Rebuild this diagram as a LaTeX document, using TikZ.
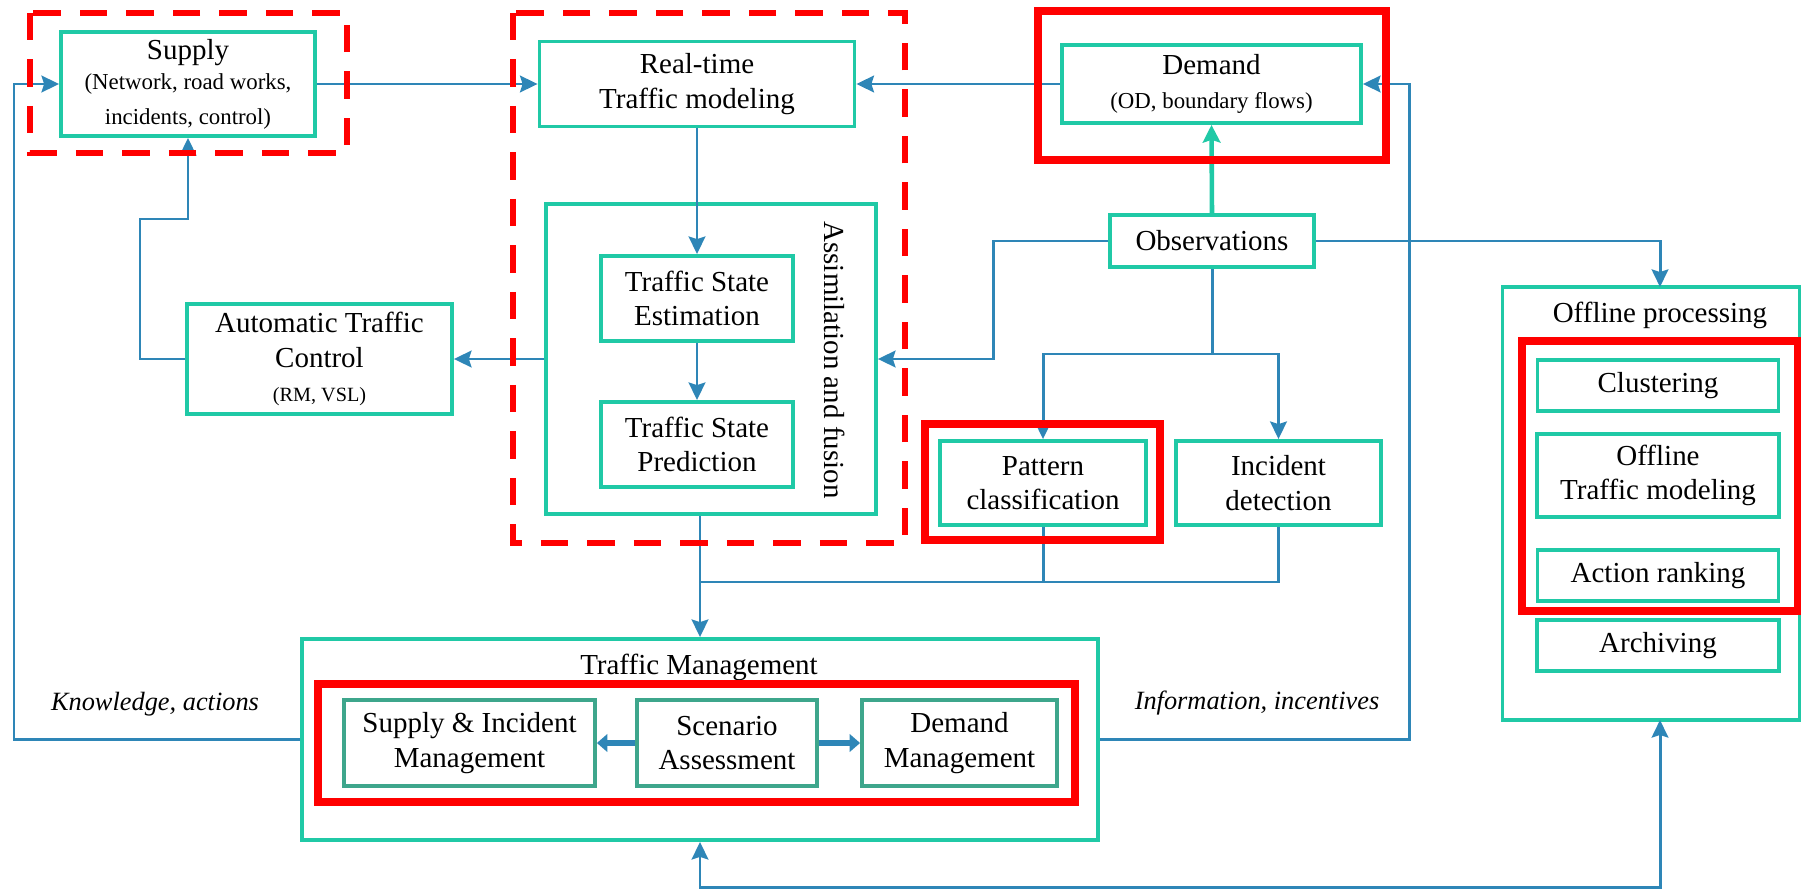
\documentclass[tikz,border=0pt]{standalone}
\usepackage{fontspec}
\setmainfont{Liberation Serif}
\usetikzlibrary{arrows.meta}
\definecolor{boxteal}{RGB}{32,201,166}
\definecolor{mgmtteal}{RGB}{62,166,140}
\definecolor{linkblue}{RGB}{46,134,183}
\definecolor{framered}{RGB}{255,0,0}
\newcommand{\bigtxt}{\fontsize{16.5}{19.5}\selectfont}
\newcommand{\subtxt}{\fontsize{13}{15.5}\selectfont}
\newcommand{\tinytxt}{\fontsize{11.5}{14}\selectfont}

\begin{document}
\begin{tikzpicture}[
  x=0.02cm, y=-0.02cm,
  box/.style={draw=boxteal, line width=2.2pt, fill=white, align=center, inner sep=1pt, font=\bigtxt},
  mgmtbox/.style={box, draw=mgmtteal},
  container/.style={draw=boxteal, line width=2.2pt, inner sep=0pt},
  title/.style={font=\bigtxt},
  note/.style={font=\fontsize{15}{18}\selectfont\itshape},
  dashframe/.style={draw=framered, line width=3.2pt, dash pattern=on 0.55cm off 0.38cm},
  solidframe/.style={draw=framered, line width=4pt},
  tip/.tip={Stealth[length=10pt, width=9.5pt, inset=1.5pt]},
  link/.style={draw=linkblue, line width=1.7pt, -tip},
  wire/.style={draw=linkblue, line width=1.7pt},
  obslink/.style={draw=boxteal, line width=2.6pt, -{Stealth[length=10pt, width=10pt, inset=1.5pt]}},
  biglink/.style={draw=linkblue, line width=3.4pt, -{Stealth[length=6pt, width=10pt, inset=0pt]}}
]
\useasboundingbox (0,0) rectangle (1803,889);

% containers
\node[container, minimum width=6.6cm, minimum height=6.2cm] (assim) at (711,359) {};
\node[title, rotate=-90] (assimlabel) at (835,360) {Assimilation and fusion};
\node[container, minimum width=15.92cm, minimum height=4.02cm] (tm) at (700,739.5) {};
\node[title] (tmlabel) at (699,667) {Traffic Management};
\node[container, minimum width=5.94cm, minimum height=8.66cm] (offline) at (1651,503.5) {};
\node[title] (offlinelabel) at (1660,315) {Offline processing};

% boxes
\node[box, minimum width=5.08cm, minimum height=2.08cm] (supply) at (188,84)
  {Supply\\[-2pt]{\subtxt (Network, road works,}\\{\subtxt incidents, control)}};
\node[box, minimum width=6.3cm, minimum height=1.7cm] (realtime) at (697,84) {Real-time\\Traffic modeling};
\node[box, minimum width=5.98cm, minimum height=1.56cm] (demand) at (1211.5,84) {Demand\\{\subtxt (OD, boundary flows)}};
\node[box, minimum width=4.08cm, minimum height=1.04cm] (obs) at (1212,241) {Observations};
\node[box, minimum width=5.3cm, minimum height=2.2cm] (atc) at (319.5,359)
  {Automatic Traffic\\Control\\{\tinytxt (RM, VSL)}};
\node[box, minimum width=3.84cm, minimum height=1.7cm] (tse) at (697,298.5) {Traffic State\\Estimation};
\node[box, minimum width=3.84cm, minimum height=1.7cm] (tsp) at (697,444.5) {Traffic State\\Prediction};
\node[box, minimum width=4.12cm, minimum height=1.68cm] (pattern) at (1043,483) {Pattern\\classification};
\node[box, minimum width=4.1cm, minimum height=1.68cm] (incident) at (1278.5,483) {Incident\\detection};
\node[mgmtbox, minimum width=5.02cm, minimum height=1.72cm] (sim) at (469.5,743) {Supply \& Incident\\Management};
\node[mgmtbox, minimum width=3.6cm, minimum height=1.72cm] (scen) at (727,743) {Scenario\\Assessment};
\node[mgmtbox, minimum width=3.9cm, minimum height=1.72cm] (dmm) at (959.5,743) {Demand\\Management};
\node[box, minimum width=4.82cm, minimum height=1.02cm] (clustering) at (1658,385.5) {Clustering};
\node[box, minimum width=4.84cm, minimum height=1.66cm] (offtm) at (1658,475.5) {Offline\\Traffic modeling};
\node[box, minimum width=4.82cm, minimum height=1.02cm] (ranking) at (1658,575.5) {Action ranking};
\node[box, minimum width=4.84cm, minimum height=1.02cm] (archiving) at (1658,645.5) {Archiving};

\coordinate (offtop) at (1660,287);
\coordinate (offbot) at (1660,720);

% notes
\node[note] (knowledge) at (155,704) {Knowledge, actions};
\node[note] (information) at (1257,703) {Information, incentives};

% connectors
\draw[link] (tm.west) -- (14,739.5) -- (14,84) -- (supply.west);
\draw[link] (supply.east) -- (realtime.west);
\draw[link] (demand.west) -- (realtime.east);
\draw[link] (tm.east) -- (1409,739.5) -- (1409,84) -- (demand.east);
\draw[link] (realtime.south) -- (tse.north);
\draw[link] (tse.south) -- (tsp.north);
\draw[link] (assim.west) -- (atc.east);
\draw[link] (atc.west) -- (140,359) -- (140,219) -- (188,219) -- (supply.south);
\draw[obslink] (obs.north) -- (demand.south);
\draw[link] (obs.west) -- (993,241) -- (993,359) -- (assim.east);
\draw[wire] (obs.south) -- (1212,354);
\draw[link] (1212,354) -| (pattern.north);
\draw[link] (1212,354) -| (incident.north);
\draw[link] (obs.east) -| (offtop);
\draw[link] (tm.north |- assim.south) -- (tm.north);
\draw[wire] (pattern.south) |- (700,582);
\draw[wire] (incident.south) |- (1043,582);
\draw[link, tip-tip] (tm.south) -- (700,887) -- (1660,887) -- (offbot);
\draw[biglink] (scen.west) -- (sim.east);
\draw[biglink] (scen.east) -- (dmm.west);

% red frames
\draw[dashframe] (30,13) rectangle (347,153);
\draw[dashframe] (513,13) rectangle (905,543);
\draw[solidframe] (1038,11) rectangle (1386,160);
\draw[solidframe] (925,424) rectangle (1160,540);
\draw[solidframe] (318,684) rectangle (1075,802);
\draw[solidframe] (1522,341) rectangle (1797,611);
\end{tikzpicture}
\end{document}
